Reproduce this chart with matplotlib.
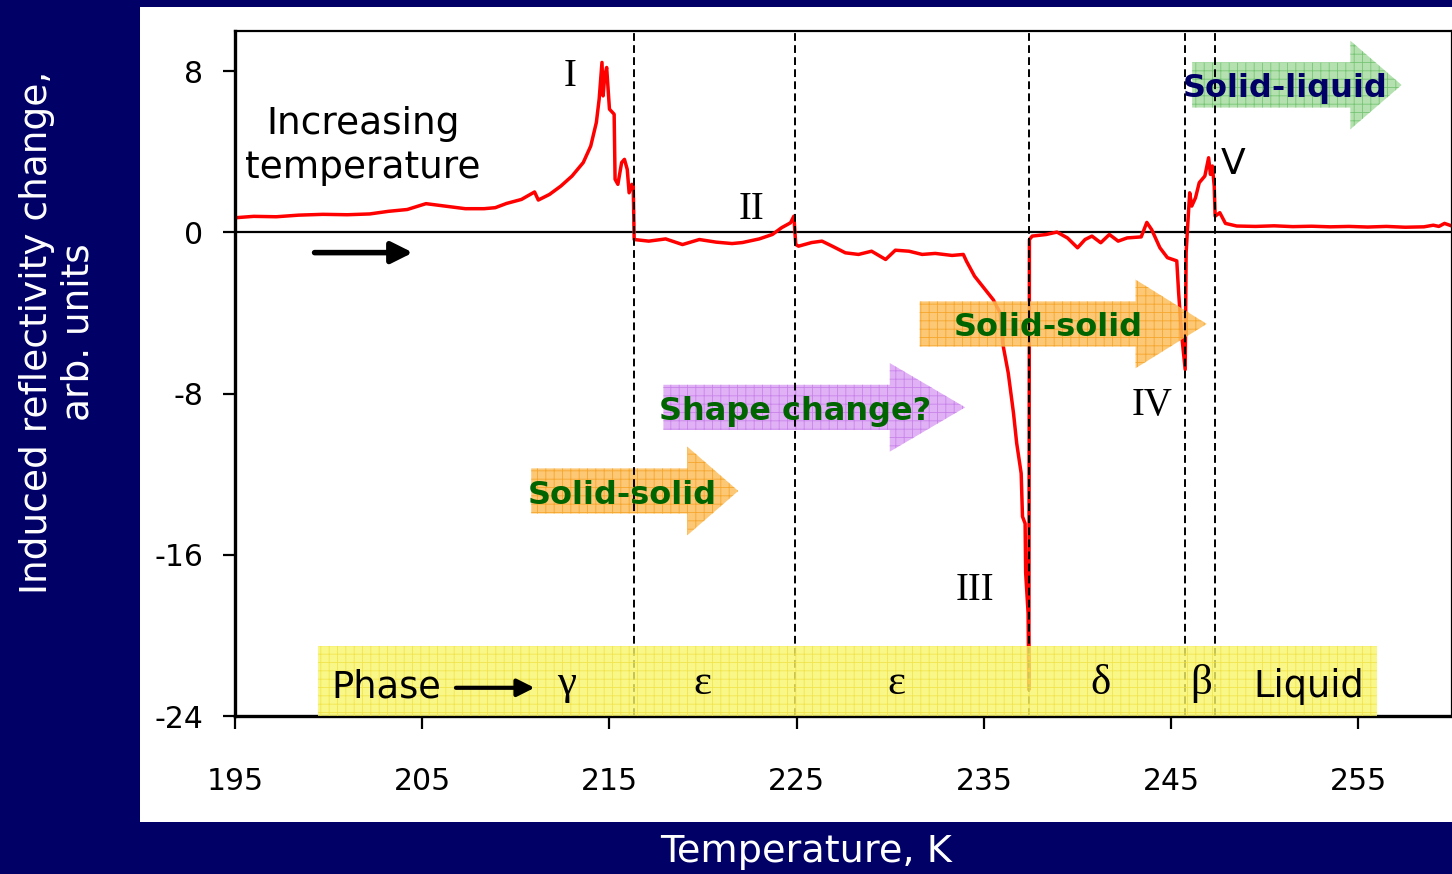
import matplotlib
matplotlib.use("Agg")
import matplotlib.pyplot as plt
from matplotlib.patches import Rectangle, FancyArrow

plt.rcParams['font.family'] = ['DejaVu Sans']
plt.rcParams['hatch.linewidth'] = 0.6

# ---------------- data ----------------
temperature = [
    195.0, 196.0, 197.2, 198.4, 199.7, 201.0, 202.2, 203.2, 204.2, 205.2, 206.2, 207.3,
    208.3, 208.9, 209.5, 210.3, 211.0, 211.2, 211.8, 212.4, 213.0, 213.6, 214.0, 214.3,
    214.45, 214.6, 214.66, 214.75, 214.85, 214.93, 215.0, 215.25, 215.3, 215.45, 215.65,
    215.8, 215.95, 216.05, 216.2, 216.27,
    216.32, 217.1, 218.0, 218.9, 219.8, 220.7, 221.55, 222.1, 223.0, 223.7, 224.2, 224.67,
    224.85, 224.95,
    225.1, 225.8, 226.35, 226.9, 227.6, 228.3, 229.0, 229.75, 230.27, 231.0, 231.7, 232.4,
    233.3, 233.9, 234.07, 234.5, 235.07, 235.5, 235.87, 236.0, 236.3, 236.58, 236.75,
    236.99, 237.06, 237.2, 237.23, 237.36, 237.4,
    237.43, 237.58, 238.33, 238.9, 239.46, 240.0, 240.4, 240.77, 241.24, 241.7, 242.17,
    242.65, 243.4, 243.7, 243.96, 244.4, 244.8, 245.3, 245.4, 245.55, 245.75, 245.8,
    245.87, 245.99, 246.1, 246.3, 246.5, 246.8, 247.0, 247.1, 247.2, 247.3, 247.35,
    247.6, 247.9, 248.5, 249.5, 250.5, 251.5, 252.5, 253.5, 254.5, 255.5, 256.5, 257.5,
    258.5, 259.0, 259.3, 259.6, 260.0,
]
signal = [
    0.73, 0.80, 0.78, 0.86, 0.90, 0.88, 0.92, 1.05, 1.14, 1.43, 1.31, 1.18,
    1.18, 1.23, 1.44, 1.64, 2.01, 1.61, 1.89, 2.30, 2.80, 3.47, 4.29, 5.46,
    6.62, 8.44, 6.78, 7.78, 8.19, 7.11, 6.12, 5.87, 2.64, 2.39, 3.47,
    3.63, 3.13, 1.97, 2.39, 2.30,
    -0.35, -0.43, -0.32, -0.60, -0.35, -0.48, -0.55, -0.50, -0.32, -0.10, 0.24, 0.48,
    0.81, -0.60,
    -0.68, -0.50, -0.43, -0.68, -1.01, -1.09, -0.93, -1.34, -0.88, -0.93, -1.09, -1.04,
    -1.14, -1.09, -1.43, -2.17, -2.84, -3.34, -4.00, -5.49, -6.98, -8.97, -10.46,
    -11.96, -14.10, -14.45, -16.90, -18.90, -22.70,
    -0.35, -0.18, -0.10, 0.02, -0.27, -0.76, -0.35, -0.18, -0.51, -0.10, -0.43,
    -0.27, -0.22, 0.50, 0.14, -0.76, -1.25, -1.41, -3.00, -4.99, -6.80, -1.00,
    0.14, 1.97, 1.31, 1.72, 2.47, 2.80, 3.71, 2.88, 3.30, 2.30, 0.81,
    0.98, 0.45, 0.32, 0.30, 0.33, 0.29, 0.31, 0.28, 0.30, 0.27, 0.30, 0.26,
    0.28, 0.36, 0.30, 0.45, 0.32,
]
phase_boundaries = [216.3, 224.9, 237.4, 245.75, 247.35]
peak_labels = ["I", "II", "III", "IV", "V"]
phase_labels = ["γ", "ε", "ε", "δ", "β"]
x_ticks = [195, 205, 215, 225, 235, 245, 255]
y_ticks = [-24, -16, -8, 0, 8]

# ---------------- layout / style ----------------
W, H = 1452, 874
NAVY = '#000066'
fig = plt.figure(figsize=(W / 100, H / 100), dpi=100)
fig.patch.set_facecolor(NAVY)
fig.add_artist(Rectangle((140 / W, 1 - 822 / H), (W - 140) / W, (822 - 7) / H,
                         transform=fig.transFigure, facecolor='white',
                         edgecolor='none', zorder=0))

ax = fig.add_axes([235 / W, 1 - 716 / H, 1 - 235 / W, (716 - 31) / H])
ax.set_facecolor('white')
ax.set_xlim(195, 260)
ax.set_ylim(-24, 10)

ax.plot(temperature, signal, color='#ff0000', lw=2.5, zorder=2, solid_joinstyle='round')
ax.axhline(0, color='black', lw=1.6, zorder=1.5)
for xb in phase_boundaries:
    ax.axvline(xb, color='black', lw=1.4, ls=(0, (4, 2.2)), zorder=4)

# spines and ticks
for s in ['left', 'bottom']:
    ax.spines[s].set_linewidth(2.4)
for s in ['top', 'right']:
    ax.spines[s].set_linewidth(1.6)
ax.set_xticks(x_ticks)
ax.set_yticks(y_ticks)
ax.set_yticklabels([str(v) for v in y_ticks])
ax.tick_params(axis='x', length=9, width=1.6, pad=28, labelsize=21.5, direction='out')
ax.tick_params(axis='y', length=9, width=1.6, pad=14, labelsize=21.5, direction='out')

# phase band (drawn over the dashed lines, as in the reference)
ax.add_patch(Rectangle((199.43, -24), 255.99 - 199.43, 3.45, facecolor='#f8f56a',
                       edgecolor='#f0e040', lw=0, hatch='++', alpha=0.8, zorder=4.5))

# block arrows: (x0, y_center, length, head_length, face, hatchcolor)
arrows = [
    (210.82, -12.83, 221.88 - 210.82, 2.72, '#fcbf5e', '#f5a020'),
    (217.88, -8.68, 234.0 - 217.88, 4.03, '#dca4f4', '#c47ce8'),
    (231.57, -4.54, 246.9 - 231.57, 3.80, '#fcbf5e', '#f5a020'),
    (246.12, 7.32, 257.31 - 246.12, 2.74, '#a8dca2', '#6cc06a'),
]
for x0, yc, L, hl, fc, hc in arrows:
    ax.add_patch(FancyArrow(x0, yc, L, 0, width=2.24, head_width=4.4, head_length=hl,
                            length_includes_head=True, facecolor=fc, edgecolor=hc,
                            lw=0, hatch='++', alpha=0.85, zorder=3))

GREEN = '#006400'
BIG = 23
ax.text(215.7, -13.48, "Solid-solid", color=GREEN, fontsize=BIG, fontweight='bold',
        ha='center', va='baseline', zorder=6)
ax.text(224.92, -9.3, "Shape change?", color=GREEN, fontsize=BIG, fontweight='bold',
        ha='center', va='baseline', zorder=6)
ax.text(238.43, -5.12, "Solid-solid", color=GREEN, fontsize=BIG, fontweight='bold',
        ha='center', va='baseline', zorder=6)
ax.text(251.09, 6.7, "Solid-liquid", color=NAVY, fontsize=BIG, fontweight='bold',
        ha='center', va='baseline', zorder=6)

# peak labels
peak_pos = [(212.88, 7.26), (222.58, 0.68), (234.53, -18.22), (243.96, -9.05), (248.3, 2.89)]
peak_fonts = ['Liberation Serif'] * 4 + ['DejaVu Sans']
peak_sizes = [28, 28, 28, 28, 26]
for lab, (px, py), fam, fs in zip(peak_labels, peak_pos, peak_fonts, peak_sizes):
    ax.text(px, py, lab, fontsize=fs, family=fam, ha='center', va='baseline', zorder=6)

# increasing temperature text + arrow
ax.text(201.82, 4.88, "Increasing", fontsize=27, ha='center', va='baseline', zorder=6)
ax.text(201.82, 2.72, "temperature", fontsize=27, ha='center', va='baseline', zorder=6)
ax.annotate("", xy=(204.5, -1.0), xytext=(199.25, -1.0),
            arrowprops=dict(arrowstyle='-|>', color='black', lw=4, mutation_scale=32,
                            shrinkA=0, shrinkB=0), zorder=6)

# phase row
ax.text(203.09, -23.07, "Phase", fontsize=26.5, ha='center', va='baseline', zorder=6)
ax.annotate("", xy=(211.0, -22.6), xytext=(206.8, -22.6),
            arrowprops=dict(arrowstyle='-|>', color='black', lw=3, mutation_scale=26,
                            shrinkA=0, shrinkB=0), zorder=6)
phase_x = [212.69, 219.96, 230.3, 241.23, 246.59]
for lab, px in zip(phase_labels, phase_x):
    ax.text(px, -22.9, lab, fontsize=31, family='Liberation Serif', ha='center',
            va='baseline', zorder=6)
ax.text(252.34, -23.07, "Liquid", fontsize=26.5, ha='center', va='baseline', zorder=6)

# axis titles in the navy frame
fig.text(806 / W, 1 - 852 / H, "Temperature, K", color='white', fontsize=27.5,
         ha='center', va='center')
fig.text(57.5 / W, 1 - 332 / H, "Induced reflectivity change,\narb. units", color='white',
         fontsize=27, rotation=90, ha='center', va='center', multialignment='center',
         linespacing=1.2)

fig.savefig("out.png", dpi=100, facecolor=fig.get_facecolor())
